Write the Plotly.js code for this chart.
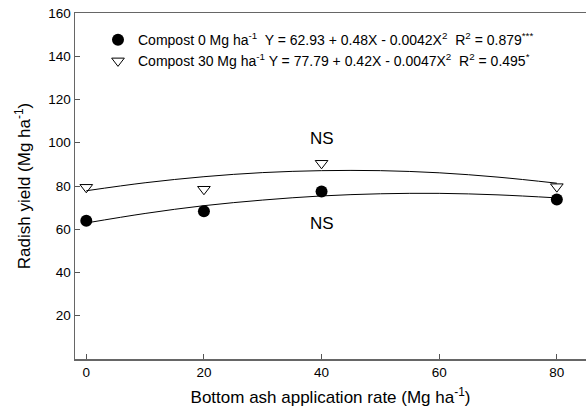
<!DOCTYPE html>
<html>
<head>
<meta charset="utf-8">
<script src="https://cdn.plot.ly/plotly-3.0.1.min.js"></script>
<style>html,body{margin:0;padding:0;background:#fff;}#chart{width:586px;height:416px;}</style>
</head>
<body>
<div id="chart"></div>
<script>
// Observed data
var rate = [0, 20, 40, 80];
var yieldC0 = [63.9, 68.3, 77.5, 73.8];
var yieldC30 = [79.4, 78.5, 90.5, 79.7];

// Regression curves
var fitX = [0, 10, 20, 30, 40, 50, 60, 70, 80];
var fitC0 = [62.9, 67.3, 70.9, 73.5, 75.4, 76.4, 76.6, 75.9, 74.5];
var fitC30 = [77.8, 81.5, 84.3, 86.2, 87.1, 87.1, 86.1, 84.1, 81.3];

var name0 = "Compost 0 Mg ha<sup>-1</sup>  Y = 62.93 + 0.48X - 0.0042X<sup>2</sup>  R<sup>2</sup> = 0.879<sup>***</sup>";
var name30 = "Compost 30 Mg ha<sup>-1</sup> Y = 77.79 + 0.42X - 0.0047X<sup>2</sup>  R<sup>2</sup> = 0.495<sup>*</sup>";

var xTicks = [0, 20, 40, 60, 80];
var yTicks = [20, 40, 60, 80, 100, 120, 140, 160];

var traces = [
  {x: fitX, y: fitC30, mode: 'lines', line: {color: '#000', width: 1, shape: 'spline'}, showlegend: false, hoverinfo: 'skip'},
  {x: fitX, y: fitC0, mode: 'lines', line: {color: '#000', width: 1, shape: 'spline'}, showlegend: false, hoverinfo: 'skip'},
  {x: rate, y: yieldC0, mode: 'markers', name: name0,
   marker: {symbol: 'circle', size: 12, color: '#000'}},
  {x: rate, y: yieldC30, mode: 'markers', name: name30,
   marker: {symbol: 'triangle-down-open', size: 11, color: '#000', line: {width: 1, color: '#000'}}}
];

var layout = {
  width: 586, height: 416,
  margin: {l: 75, r: 0, t: 13, b: 57},
  paper_bgcolor: '#fff', plot_bgcolor: '#fff',
  font: {family: 'Liberation Sans, Arial, sans-serif', color: '#000', size: 13},
  showlegend: true,
  legend: {x: 0.045, y: 0.968, xanchor: 'left', yanchor: 'top', bgcolor: 'rgba(0,0,0,0)',
           font: {size: 14}, tracegroupgap: 0, itemwidth: 30},
  xaxis: {range: [-1.92, 84.96], tickvals: xTicks, ticks: 'inside', ticklen: 5, tickwidth: 1,
          tickcolor: '#555', showline: true, linecolor: '#666', linewidth: 1.5, mirror: true,
          showgrid: false, zeroline: false, tickfont: {size: 13.5},
          title: {text: 'Bottom ash application rate (Mg ha<sup>-1</sup>)', font: {size: 17}, standoff: 12}},
  yaxis: {range: [0, 160], tickvals: yTicks, ticks: 'inside', ticklen: 5, tickwidth: 1,
          tickcolor: '#555', showline: true, linecolor: '#666', linewidth: 1.5, mirror: false,
          showgrid: false, zeroline: false, tickfont: {size: 13.5},
          title: {text: 'Radish yield (Mg ha<sup>-1</sup>)', font: {size: 17}, standoff: 13}},
  annotations: [
    {x: 40, y: 102.1, xref: 'x', yref: 'y', text: 'NS', showarrow: false, font: {size: 17}},
    {x: 40, y: 62.7, xref: 'x', yref: 'y', text: 'NS', showarrow: false, font: {size: 17}}
  ]
};

Plotly.newPlot('chart', traces, layout, {displayModeBar: false, staticPlot: true});
</script>
</body>
</html>
